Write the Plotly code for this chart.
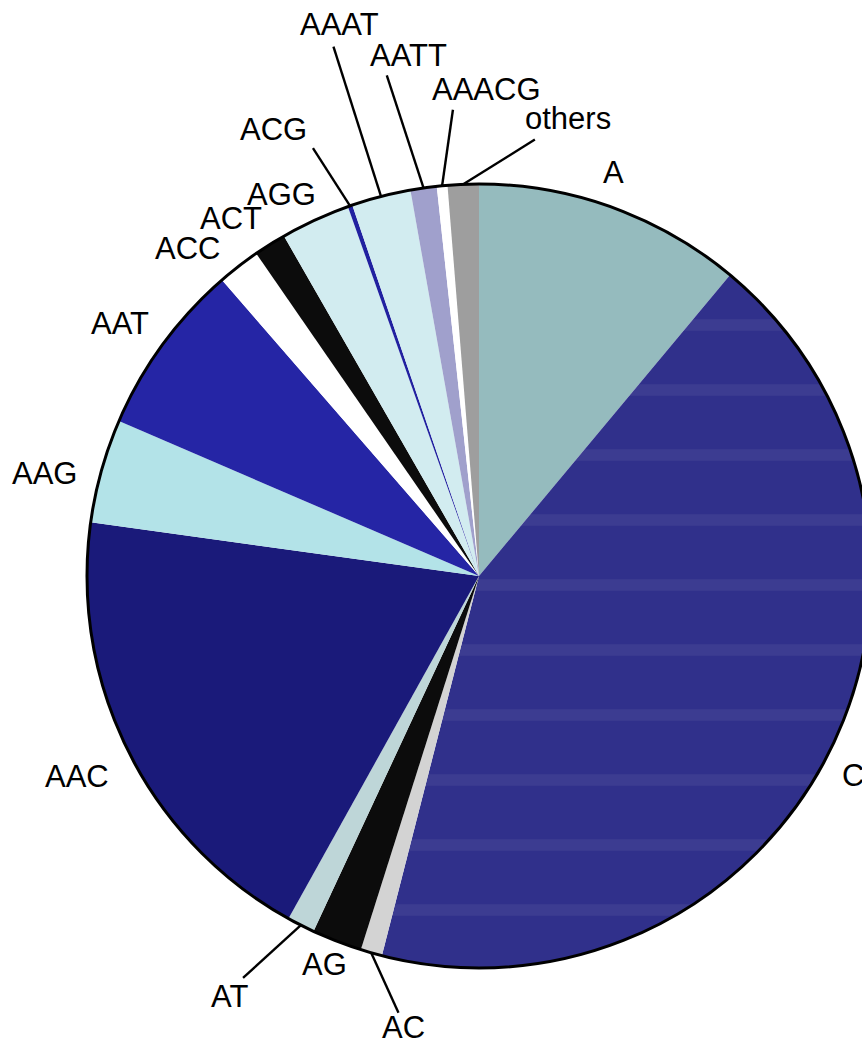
import math
import plotly.graph_objects as go

# ---- data ----
labels = ["A", "C", "AC", "AG", "AT", "AAC", "AAG", "AAT", "ACC", "ACT",
          "AGG", "ACG", "AAAT", "AATT", "AAACG", "others"]
values = [11.06, 42.92, 0.89, 2.06, 1.14, 19.11, 4.28, 7.15, 1.76, 1.33,
          2.86, 0.19, 2.44, 1.08, 0.44, 1.28]

# ---- styles ----
colors = ["#95BBBE", "#30308B", "#D3D3D3", "#0C0C0C", "#BED6D8", "#1A1A7A",
          "#B3E3E8", "#2525A5", "#FFFFFF", "#0C0C0C", "#D2ECF0", "#2121A0",
          "#D2ECF0", "#A0A0CC", "#FFFFFF", "#9E9E9E"]
patterns = ["-" if l == "C" else "" for l in labels]

text_place = {
    "A": (-1.4, 425), "C": (1.0, 424), "AC": (-6.5, 458), "AG": (0.4, 418),
    "AT": (3.6, 489), "AAC": (0.0, 449), "AAG": (-2.3, 446), "AAT": (-1.0, 439),
    "ACC": (-3.9, 438), "ACT": (-2.5, 435), "AGG": (-2.7, 430),
    "ACG": (-5.5, 491), "AAAT": (0.3, 569), "AATT": (0.4, 525),
    "AAACG": (6.3, 487), "others": (13.3, 466),
}
leader_place = {
    "AC": (-5.5, 444), "AT": (3.4, 466), "ACG": (-2.0, 459),
    "AAAT": (-0.9, 549), "AATT": (-2.3, 509), "AAACG": (2.2, 467),
    "others": (9.6, 440),
}

W, H = 900, 1041
L, T = 87, 184
D = 784
R = D / 2

def to_paper(angle_deg, r_px):
    a = math.radians(angle_deg)
    return 0.5 + r_px * math.sin(a) / D, 0.5 + r_px * math.cos(a) / D

total = sum(values)
mids = []
cum = 0.0
for v in values:
    mids.append((cum + v / 2) / total * 360.0)
    cum += v

fig = go.Figure()
fig.add_trace(go.Pie(
    labels=labels, values=values, sort=False, direction="clockwise", rotation=0,
    marker=dict(colors=colors, line=dict(width=0),
                pattern=dict(shape=patterns, fgcolor="#30308B", bgcolor="#3C3C91",
                             size=65, solidity=0.82)),
    textinfo="none", hoverinfo="label+percent", showlegend=False,
))
fig.add_trace(go.Pie(
    labels=["outline"], values=[1], sort=False,
    marker=dict(colors=["rgba(0,0,0,0)"], line=dict(color="black", width=3)),
    textinfo="none", hoverinfo="skip", showlegend=False,
))

font = dict(family="Liberation Sans, Arial, sans-serif", size=31, color="black")
shapes = []
annotations = []
for lab, mid in zip(labels, mids):
    da, r = text_place[lab]
    x, y = to_paper(mid + da, r)
    annotations.append(dict(x=x, y=y, xref="paper", yref="paper", text=lab,
                            showarrow=False, xanchor="center", yanchor="middle",
                            font=font))
    if lab in leader_place:
        lda, lr = leader_place[lab]
        x0, y0 = to_paper(mid, R)
        x1, y1 = to_paper(mid + lda, lr)
        shapes.append(dict(type="line", xref="paper", yref="paper",
                           x0=x0, y0=y0, x1=x1, y1=y1,
                           line=dict(color="black", width=2.4)))

fig.update_layout(
    width=W, height=H, autosize=False,
    margin=dict(l=L, r=W - L - D, t=T, b=H - T - D, pad=0),
    paper_bgcolor="white", plot_bgcolor="white",
    shapes=shapes, annotations=annotations,
)

fig.write_html(
    "out.html",
    config={"displayModeBar": False},
    post_script="document.body.style.margin='0';"
                "document.documentElement.style.overflow='hidden';"
                "document.body.style.overflow='hidden';",
)
